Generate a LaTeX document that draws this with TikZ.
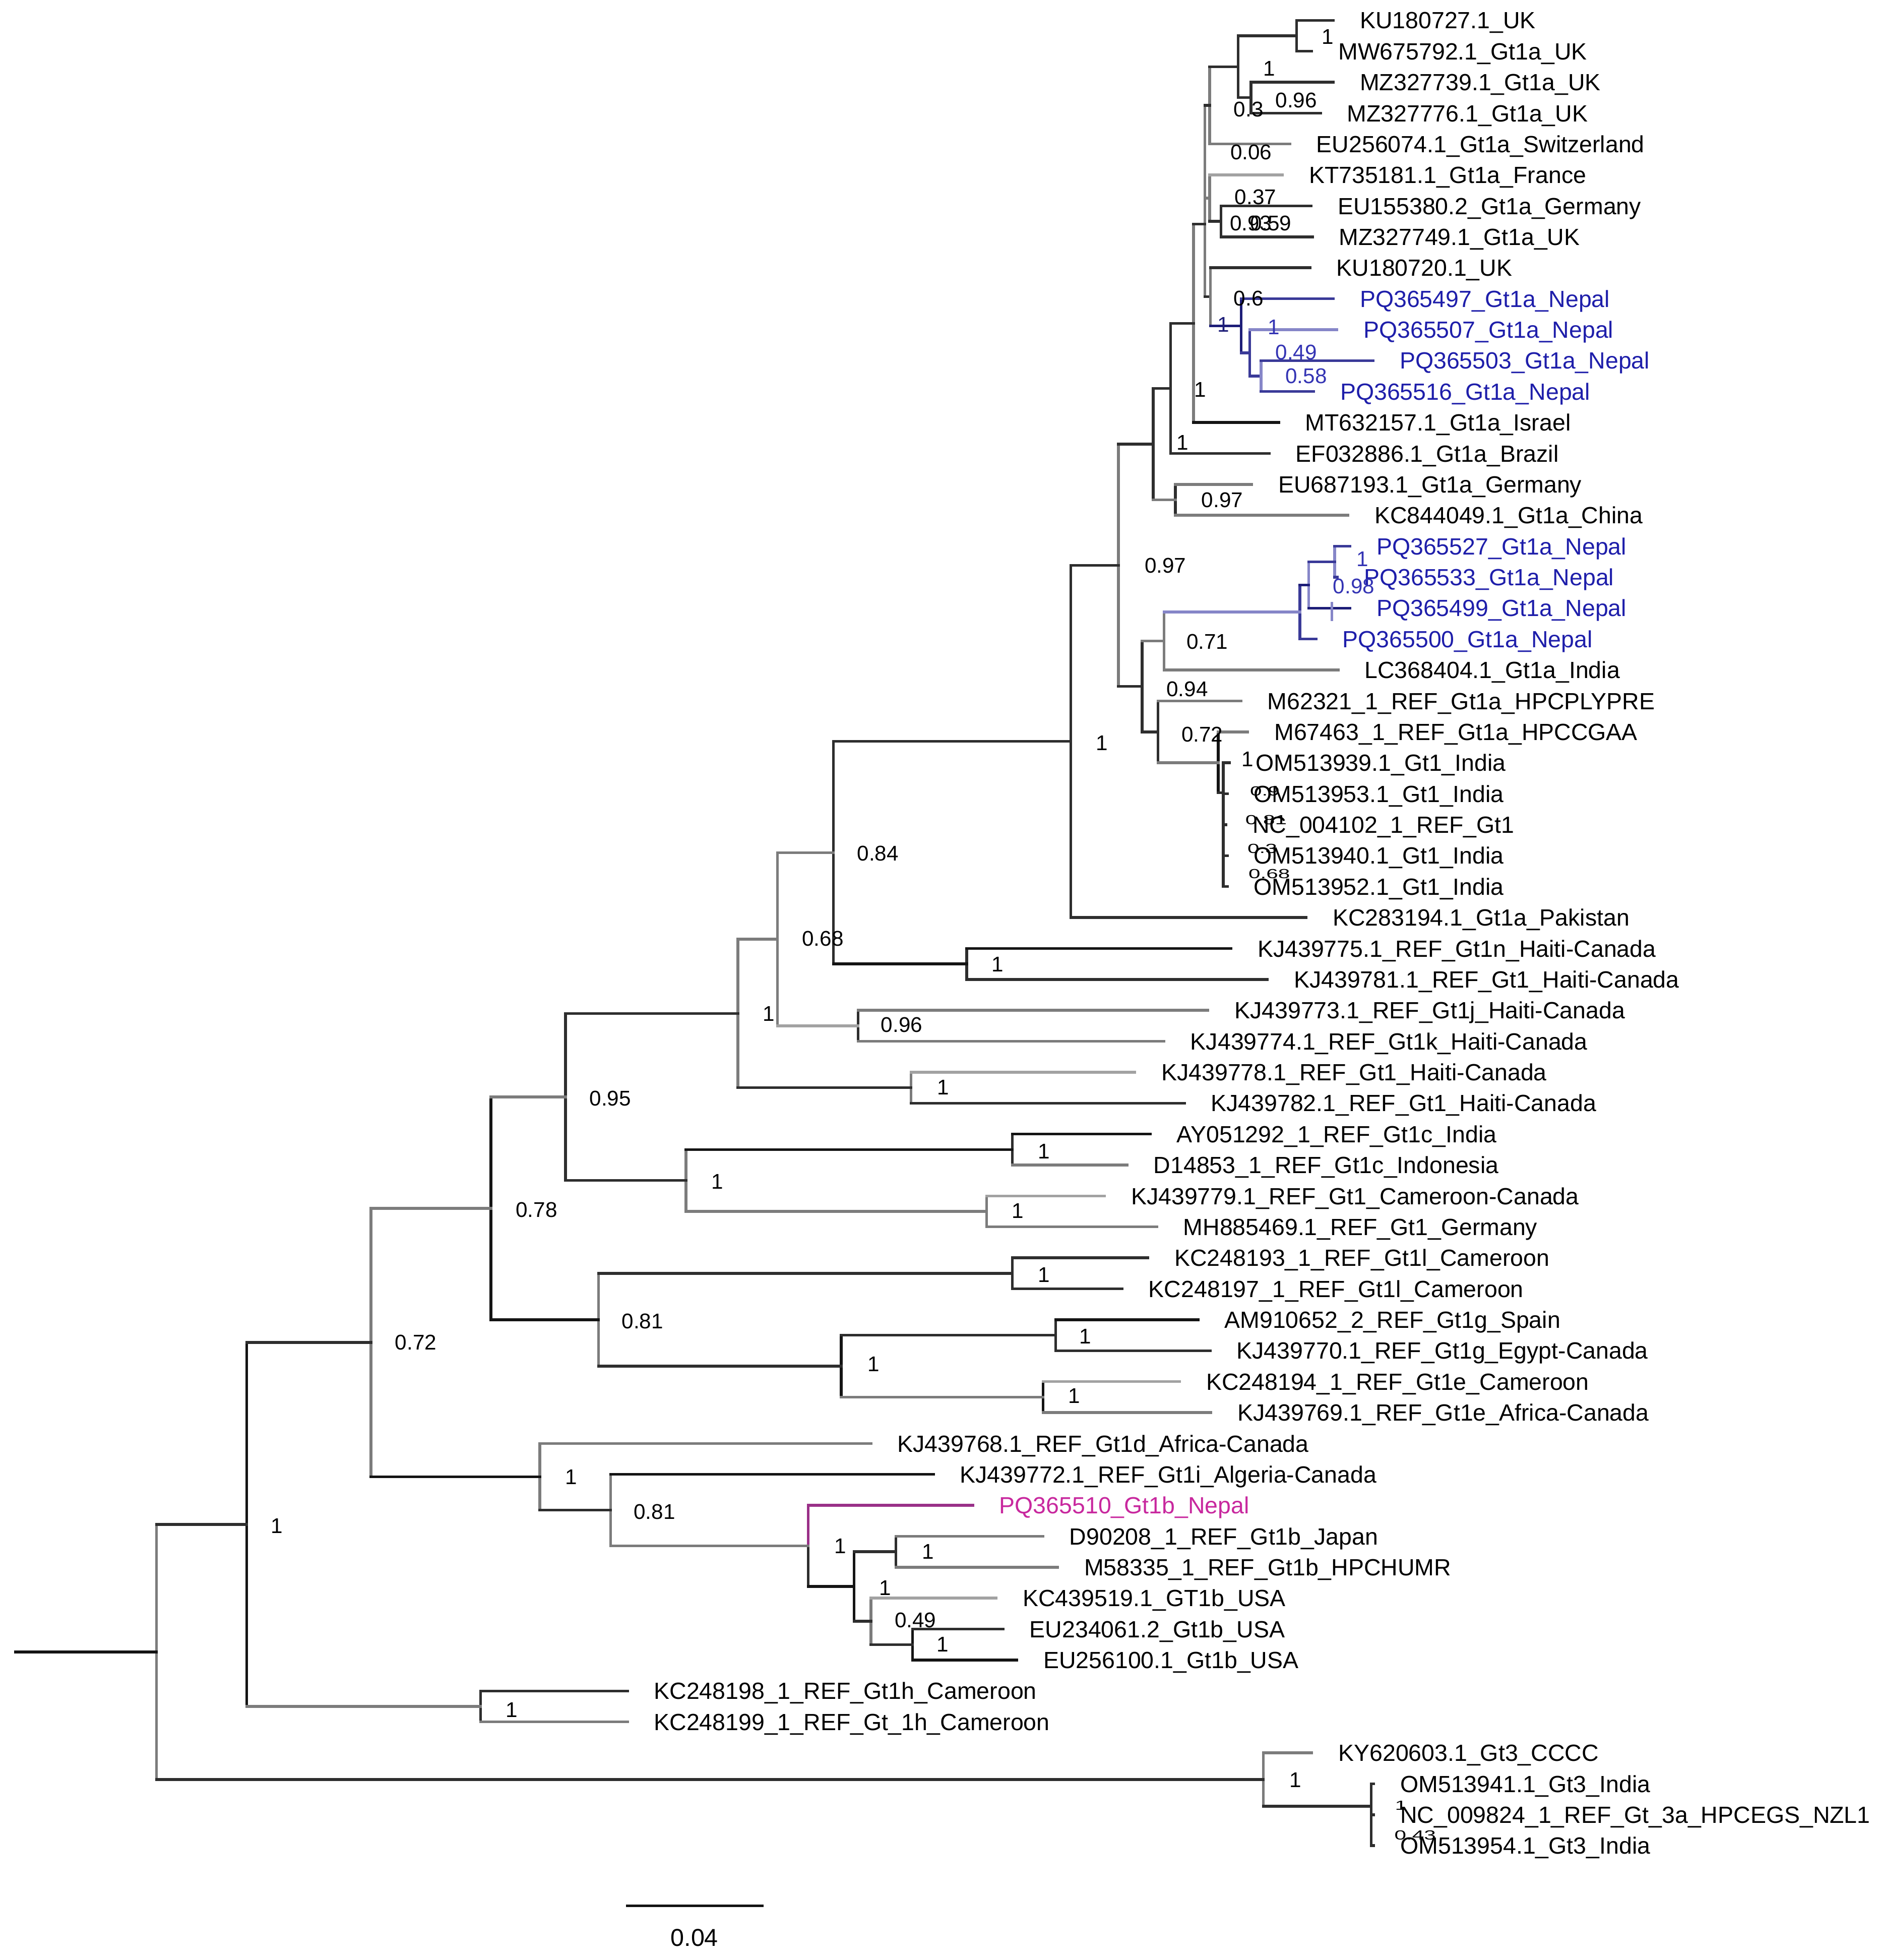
\documentclass[tikz,border=0pt]{standalone}
\usepackage{fontspec}
\setmainfont{Liberation Sans}
\definecolor{bk}{HTML}{141414}
\definecolor{dk}{HTML}{2E2E2E}
\definecolor{gr}{HTML}{7C7C7C}
\definecolor{lg}{HTML}{A2A2A2}
\definecolor{bl}{HTML}{3A3A98}
\definecolor{lb}{HTML}{8686C8}
\definecolor{nv}{HTML}{1E1E78}
\definecolor{nep}{HTML}{1E1EAA}
\definecolor{nepl}{HTML}{3434B4}
\definecolor{mgl}{HTML}{9A3088}
\definecolor{mgt}{HTML}{C8289E}
\newcommand\hbr[3]{\draw[br,#1] (#2 |- #3) -- (#3);}
\newcommand\vbr[4]{\draw[br,#1] (#2 |- #3) -- (#2 |- #4);}
\newcommand\tiplab[3]{\node[tip,#1] (l#2) at ([xshift=21pt]t#2) {#3};}
\newcommand\sq[1]{\scalebox{1}[0.62]{#1}}
\tikzset{
  br/.style={line width=2.2pt, line cap=rect, draw=dk},
  tip/.style={anchor=west, inner sep=0pt, text height=13.4pt, text depth=0pt,
              font=\fontsize{18.7}{20}\selectfont},
  sl/.style={inner sep=0pt, text height=12.2pt, text depth=0pt,
             font=\fontsize{17}{18}\selectfont},
}
\begin{document}
\begin{tikzpicture}[x=1pt,y=-1pt]
\fill[white] (0,0) rectangle (1500,1564.8);
\path[use as bounding box] (0,0) rectangle (1500,1564.8);
% ---------------- tips (branch ends)
\coordinate (t1) at (1064.7,16.2);
\coordinate (t2) at (1047.5,40.9);
\coordinate (t3) at (1064.7,65.6);
\coordinate (t4) at (1054.4,90.3);
\coordinate (t5) at (1030,115.0);
\coordinate (t6) at (1024,139.7);
\coordinate (t7) at (1047,164.4);
\coordinate (t8) at (1048,189.1);
\coordinate (t9) at (1046,213.8);
\coordinate (t10) at (1064.7,238.5);
\coordinate (t11) at (1067.6,263.2);
\coordinate (t12) at (1096.5,287.9);
\coordinate (t13) at (1049,312.6);
\coordinate (t14) at (1021,337.3);
\coordinate (t15) at (1013.4,362.0);
\coordinate (t16) at (999.6,386.7);
\coordinate (t17) at (1076.4,411.4);
\coordinate (t18) at (1078,436.1);
\coordinate (t19) at (1068,460.8);
\coordinate (t20) at (1078,485.5);
\coordinate (t21) at (1050.8,510.2);
\coordinate (t22) at (1068.5,534.9);
\coordinate (t23) at (990.9,559.6);
\coordinate (t24) at (996.4,584.3);
\coordinate (t25) at (981.6,609.0);
\coordinate (t26) at (980,633.7);
\coordinate (t27) at (979,658.4);
\coordinate (t28) at (980,683.1);
\coordinate (t29) at (980,707.8);
\coordinate (t30) at (1043,732.5);
\coordinate (t31) at (983,757.2);
\coordinate (t32) at (1012,781.9);
\coordinate (t33) at (964.6,806.6);
\coordinate (t34) at (929.4,831.3);
\coordinate (t35) at (906.2,856.0);
\coordinate (t36) at (945.7,880.7);
\coordinate (t37) at (918.5,905.4);
\coordinate (t38) at (900,930.1);
\coordinate (t39) at (882,954.8);
\coordinate (t40) at (923.7,979.5);
\coordinate (t41) at (916.7,1004.2);
\coordinate (t42) at (896,1028.9);
\coordinate (t43) at (956.6,1053.6);
\coordinate (t44) at (966.3,1078.3);
\coordinate (t45) at (942,1103.0);
\coordinate (t46) at (967,1127.7);
\coordinate (t47) at (695.4,1152.4);
\coordinate (t48) at (745.4,1177.1);
\coordinate (t49) at (776.8,1201.8);
\coordinate (t50) at (832.8,1226.5);
\coordinate (t51) at (844.5,1251.2);
\coordinate (t52) at (795.5,1275.9);
\coordinate (t53) at (801,1300.6);
\coordinate (t54) at (812,1325.3);
\coordinate (t55) at (501,1350.0);
\coordinate (t56) at (501,1374.7);
\coordinate (t57) at (1047.5,1399.4);
\coordinate (t58) at (1097,1424.1);
\coordinate (t59) at (1097,1448.8);
\coordinate (t60) at (1097,1473.5);
% ---------------- internal nodes
\coordinate (nA12) at (1035.4,28.55);
\coordinate (nA34) at (999,77.95);
\coordinate (nA) at (988.6,53.25);
\coordinate (nB) at (966,84.1);
\coordinate (n78) at (975,176.75);
\coordinate (nD) at (966,158.2);
\coordinate (nB3) at (1007,300.25);
\coordinate (nB2) at (998,281.7);
\coordinate (nB1) at (991,260.1);
\coordinate (n9b) at (966.6,236.95);
\coordinate (nC) at (962,179);
\coordinate (nE) at (953,258.15);
\coordinate (nF) at (934.7,310.1);
\coordinate (n1617) at (938.5,399.05);
\coordinate (nG) at (920.8,354.6);
\coordinate (nM) at (1065.7,448.45);
\coordinate (nL) at (1044.9,466.98);
\coordinate (nK) at (1038,488.6);
\coordinate (nJ) at (929.4,511.75);
\coordinate (nIn) at (976.8,632.8);
\coordinate (n72) at (972.8,608.95);
\coordinate (nN) at (924.7,584.3);
\coordinate (nI) at (912,548.0);
\coordinate (nH) at (893,451.3);
\coordinate (nT) at (855.1,591.9);
\coordinate (n3132) at (772,769.55);
\coordinate (n084) at (665.4,680.7);
\coordinate (n3334) at (685.2,818.95);
\coordinate (n068) at (620.8,749.8);
\coordinate (n3536) at (727.5,868.35);
\coordinate (n1a) at (589.2,809.1);
\coordinate (n3738) at (808.3,917.75);
\coordinate (n3940) at (787.8,967.15);
\coordinate (n549) at (547.7,942.45);
\coordinate (n095) at (451.6,875.8);
\coordinate (n4142) at (808.3,1016.55);
\coordinate (n4344) at (842.9,1065.95);
\coordinate (n4546) at (832.9,1115.35);
\coordinate (n673) at (671.7,1090.65);
\coordinate (n081a) at (478,1053.6);
\coordinate (n078) at (392,964.7);
\coordinate (n5051) at (715.4,1238.85);
\coordinate (n5354) at (728.7,1312.95);
\coordinate (n695) at (695.4,1294.4);
\coordinate (n682) at (682,1266.6);
\coordinate (n1c) at (645.3,1234.2);
\coordinate (n081b) at (487.6,1205.65);
\coordinate (n1b) at (431,1179.0);
\coordinate (n072) at (296.3,1071.85);
\coordinate (n5556) at (383.8,1362.35);
\coordinate (n1r) at (197,1217.1);
\coordinate (nGt3b) at (1095,1442);
\coordinate (nGt3) at (1008.8,1420.7);
\coordinate (root) at (125,1318.9);
\coordinate (stub) at (12.5,1318.9);
% ---------------- branches
\vbr{dk}{nA12}{t1}{t2} \hbr{dk}{nA12}{t1} \hbr{dk}{nA12}{t2}
\vbr{dk}{nA34}{t3}{t4} \hbr{dk}{nA34}{t3} \hbr{dk}{nA34}{t4}
\vbr{dk}{nA}{nA12}{nA34} \hbr{dk}{nA}{nA12} \hbr{dk}{nA}{nA34}
\vbr{gr}{nB}{nA}{t5} \hbr{dk}{nB}{nA} \hbr{gr}{nB}{t5}
\vbr{dk}{n78}{t7}{t8} \hbr{dk}{n78}{t7} \hbr{dk}{n78}{t8}
\vbr{gr}{nD}{t6}{n78} \hbr{lg}{nD}{t6} \hbr{dk}{nD}{n78}
\vbr{gr}{nC}{nB}{n9b} \hbr{dk}{nC}{nB} \hbr{gr}{nC}{nD} \hbr{dk}{nC}{n9b}
\vbr{gr}{n9b}{t9}{nB1} \hbr{dk}{n9b}{t9} \hbr{nv}{n9b}{nB1}
\vbr{nv}{nB1}{t10}{nB2} \hbr{bl}{nB1}{t10} \hbr{bl}{nB1}{nB2}
\vbr{bl}{nB2}{t11}{nB3} \hbr{lb}{nB2}{t11} \hbr{bl}{nB2}{nB3}
\vbr{lb}{nB3}{t12}{t13} \hbr{bl}{nB3}{t12} \hbr{bl}{nB3}{t13}
\vbr{gr}{nE}{nC}{t14} \hbr{dk}{nE}{nC} \hbr{bk}{nE}{t14}
\vbr{dk}{nF}{nE}{t15} \hbr{dk}{nF}{nE} \hbr{dk}{nF}{t15}
\vbr{dk}{n1617}{t16}{t17} \hbr{gr}{n1617}{t16} \hbr{gr}{n1617}{t17}
\vbr{dk}{nG}{nF}{n1617} \hbr{dk}{nG}{nF} \hbr{gr}{nG}{n1617}
\vbr{lb}{nM}{t18}{t19} \hbr{bl}{nM}{t18} \hbr{bl}{nM}{t19}
\vbr{lb}{nL}{nM}{t20} \hbr{bl}{nL}{nM} \hbr{nv}{nL}{t20}
\vbr{bl}{nK}{nL}{t21} \hbr{nv}{nK}{nL} \hbr{bl}{nK}{t21}
\vbr{gr}{nJ}{nK}{t22} \hbr{lb}{nJ}{nK} \hbr{gr}{nJ}{t22}
\draw[br,lb,line width=2pt] (1063.5,481.6) -- (1063.5,495);
\vbr{dk}{nIn}{t25}{t29}
\hbr{dk}{nIn}{t25} \hbr{dk}{nIn}{t26} \hbr{dk}{nIn}{t27} \hbr{dk}{nIn}{t28} \hbr{dk}{nIn}{t29}
\vbr{bk}{n72}{t24}{nIn} \hbr{gr}{n72}{t24} \hbr{dk}{n72}{nIn}
\vbr{dk}{nN}{t23}{n72} \hbr{gr}{nN}{t23} \hbr{gr}{nN}{n72}
\vbr{dk}{nI}{nJ}{nN} \hbr{gr}{nI}{nJ} \hbr{dk}{nI}{nN}
\vbr{gr}{nH}{nG}{nI} \hbr{dk}{nH}{nG} \hbr{dk}{nH}{nI}
\vbr{dk}{nT}{nH}{t30} \hbr{dk}{nT}{nH} \hbr{dk}{nT}{t30}
\vbr{dk}{n3132}{t31}{t32} \hbr{bk}{n3132}{t31} \hbr{dk}{n3132}{t32}
\vbr{dk}{n084}{nT}{n3132} \hbr{dk}{n084}{nT} \hbr{bk}{n084}{n3132}
\vbr{dk}{n3334}{t33}{t34} \hbr{gr}{n3334}{t33} \hbr{gr}{n3334}{t34}
\vbr{gr}{n068}{n084}{n3334} \hbr{gr}{n068}{n084} \hbr{lg}{n068}{n3334}
\vbr{gr}{n3536}{t35}{t36} \hbr{lg}{n3536}{t35} \hbr{dk}{n3536}{t36}
\vbr{gr}{n1a}{n068}{n3536} \hbr{gr}{n1a}{n068} \hbr{dk}{n1a}{n3536}
\vbr{dk}{n3738}{t37}{t38} \hbr{bk}{n3738}{t37} \hbr{gr}{n3738}{t38}
\vbr{gr}{n3940}{t39}{t40} \hbr{lg}{n3940}{t39} \hbr{gr}{n3940}{t40}
\vbr{gr}{n549}{n3738}{n3940} \hbr{bk}{n549}{n3738} \hbr{gr}{n549}{n3940}
\vbr{dk}{n095}{n1a}{n549} \hbr{dk}{n095}{n1a} \hbr{dk}{n095}{n549}
\vbr{dk}{n4142}{t41}{t42} \hbr{dk}{n4142}{t41} \hbr{dk}{n4142}{t42}
\vbr{dk}{n4344}{t43}{t44} \hbr{bk}{n4344}{t43} \hbr{dk}{n4344}{t44}
\vbr{bk}{n4546}{t45}{t46} \hbr{lg}{n4546}{t45} \hbr{gr}{n4546}{t46}
\vbr{bk}{n673}{n4344}{n4546} \hbr{dk}{n673}{n4344} \hbr{gr}{n673}{n4546}
\vbr{gr}{n081a}{n4142}{n673} \hbr{dk}{n081a}{n4142} \hbr{dk}{n081a}{n673}
\vbr{bk}{n078}{n095}{n081a} \hbr{gr}{n078}{n095} \hbr{bk}{n078}{n081a}
\vbr{dk}{n5051}{t50}{t51} \hbr{gr}{n5051}{t50} \hbr{gr}{n5051}{t51}
\vbr{bk}{n5354}{t53}{t54} \hbr{dk}{n5354}{t53} \hbr{bk}{n5354}{t54}
\vbr{gr}{n695}{t52}{n5354} \hbr{lg}{n695}{t52} \hbr{dk}{n695}{n5354}
\vbr{bk}{n682}{n5051}{n695} \hbr{dk}{n682}{n5051} \hbr{dk}{n682}{n695}
\vbr{mgl}{n1c}{t49}{n1c} \vbr{dk}{n1c}{n1c}{n682}
\hbr{mgl}{n1c}{t49} \hbr{bk}{n1c}{n682}
\vbr{gr}{n081b}{t48}{n1c} \hbr{bk}{n081b}{t48} \hbr{gr}{n081b}{n1c}
\vbr{gr}{n1b}{t47}{n081b} \hbr{gr}{n1b}{t47} \hbr{dk}{n1b}{n081b}
\vbr{gr}{n072}{n078}{n1b} \hbr{gr}{n072}{n078} \hbr{bk}{n072}{n1b}
\vbr{dk}{n5556}{t55}{t56} \hbr{dk}{n5556}{t55} \hbr{gr}{n5556}{t56}
\vbr{bk}{n1r}{n072}{n5556} \hbr{dk}{n1r}{n072} \hbr{gr}{n1r}{n5556}
\vbr{dk}{nGt3b}{t58}{t60}
\hbr{dk}{nGt3b}{t58} \hbr{dk}{nGt3b}{t59} \hbr{dk}{nGt3b}{t60}
\vbr{gr}{nGt3}{t57}{nGt3b} \hbr{gr}{nGt3}{t57} \hbr{dk}{nGt3}{nGt3b}
\vbr{gr}{root}{n1r}{nGt3} \hbr{dk}{root}{n1r} \hbr{dk}{root}{nGt3}
\draw[br,bk] (stub) -- (root);
% ---------------- tip labels
\tiplab{}{1}{KU180727.1\_UK}
\tiplab{}{2}{MW675792.1\_Gt1a\_UK}
\tiplab{}{3}{MZ327739.1\_Gt1a\_UK}
\tiplab{}{4}{MZ327776.1\_Gt1a\_UK}
\tiplab{}{5}{EU256074.1\_Gt1a\_Switzerland}
\tiplab{}{6}{KT735181.1\_Gt1a\_France}
\tiplab{}{7}{EU155380.2\_Gt1a\_Germany}
\tiplab{}{8}{MZ327749.1\_Gt1a\_UK}
\tiplab{}{9}{KU180720.1\_UK}
\tiplab{nep}{10}{PQ365497\_Gt1a\_Nepal}
\tiplab{nep}{11}{PQ365507\_Gt1a\_Nepal}
\tiplab{nep}{12}{PQ365503\_Gt1a\_Nepal}
\tiplab{nep}{13}{PQ365516\_Gt1a\_Nepal}
\tiplab{}{14}{MT632157.1\_Gt1a\_Israel}
\tiplab{}{15}{EF032886.1\_Gt1a\_Brazil}
\tiplab{}{16}{EU687193.1\_Gt1a\_Germany}
\tiplab{}{17}{KC844049.1\_Gt1a\_China}
\tiplab{nep}{18}{PQ365527\_Gt1a\_Nepal}
\tiplab{nep}{19}{PQ365533\_Gt1a\_Nepal}
\tiplab{nep}{20}{PQ365499\_Gt1a\_Nepal}
\tiplab{nep}{21}{PQ365500\_Gt1a\_Nepal}
\tiplab{}{22}{LC368404.1\_Gt1a\_India}
\tiplab{}{23}{M62321\_1\_REF\_Gt1a\_HPCPLYPRE}
\tiplab{}{24}{M67463\_1\_REF\_Gt1a\_HPCCGAA}
\tiplab{}{25}{OM513939.1\_Gt1\_India}
\tiplab{}{26}{OM513953.1\_Gt1\_India}
\tiplab{}{27}{NC\_004102\_1\_REF\_Gt1}
\tiplab{}{28}{OM513940.1\_Gt1\_India}
\tiplab{}{29}{OM513952.1\_Gt1\_India}
\tiplab{}{30}{KC283194.1\_Gt1a\_Pakistan}
\tiplab{}{31}{KJ439775.1\_REF\_Gt1n\_Haiti-Canada}
\tiplab{}{32}{KJ439781.1\_REF\_Gt1\_Haiti-Canada}
\tiplab{}{33}{KJ439773.1\_REF\_Gt1j\_Haiti-Canada}
\tiplab{}{34}{KJ439774.1\_REF\_Gt1k\_Haiti-Canada}
\tiplab{}{35}{KJ439778.1\_REF\_Gt1\_Haiti-Canada}
\tiplab{}{36}{KJ439782.1\_REF\_Gt1\_Haiti-Canada}
\tiplab{}{37}{AY051292\_1\_REF\_Gt1c\_India}
\tiplab{}{38}{D14853\_1\_REF\_Gt1c\_Indonesia}
\tiplab{}{39}{KJ439779.1\_REF\_Gt1\_Cameroon-Canada}
\tiplab{}{40}{MH885469.1\_REF\_Gt1\_Germany}
\tiplab{}{41}{KC248193\_1\_REF\_Gt1l\_Cameroon}
\tiplab{}{42}{KC248197\_1\_REF\_Gt1l\_Cameroon}
\tiplab{}{43}{AM910652\_2\_REF\_Gt1g\_Spain}
\tiplab{}{44}{KJ439770.1\_REF\_Gt1g\_Egypt-Canada}
\tiplab{}{45}{KC248194\_1\_REF\_Gt1e\_Cameroon}
\tiplab{}{46}{KJ439769.1\_REF\_Gt1e\_Africa-Canada}
\tiplab{}{47}{KJ439768.1\_REF\_Gt1d\_Africa-Canada}
\tiplab{}{48}{KJ439772.1\_REF\_Gt1i\_Algeria-Canada}
\tiplab{mgt}{49}{PQ365510\_Gt1b\_Nepal}
\tiplab{}{50}{D90208\_1\_REF\_Gt1b\_Japan}
\tiplab{}{51}{M58335\_1\_REF\_Gt1b\_HPCHUMR}
\tiplab{}{52}{KC439519.1\_GT1b\_USA}
\tiplab{}{53}{EU234061.2\_Gt1b\_USA}
\tiplab{}{54}{EU256100.1\_Gt1b\_USA}
\tiplab{}{55}{KC248198\_1\_REF\_Gt1h\_Cameroon}
\tiplab{}{56}{KC248199\_1\_REF\_Gt\_1h\_Cameroon}
\tiplab{}{57}{KY620603.1\_Gt3\_CCCC}
\tiplab{}{58}{OM513941.1\_Gt3\_India}
\tiplab{}{59}{NC\_009824\_1\_REF\_Gt\_3a\_HPCEGS\_NZL1}
\tiplab{}{60}{OM513954.1\_Gt3\_India}
% ---------------- support values
\node[sl] (s1) at (1060,29) {1};
\node[sl] (s2) at (1013.4,54.3) {1};
\node[sl] (s3) at (1035,80) {0.96};
\node[sl] (s4) at (997,87) {0.3};
\node[sl] (s5) at (999,121.3) {0.06};
\node[sl] (s6) at (1002.5,157) {0.37};
\node[sl,anchor=west] (s7) at (982,178) {0.93};
\node[sl,anchor=west] (s8) at (998,178) {0.59};
\node[sl] (s9) at (997,238) {0.6};
\node[sl,nv] (s10) at (977,259) {1};
\node[sl,nepl] (s11) at (1017,261) {1};
\node[sl,nepl] (s12) at (1035,281) {0.49};
\node[sl,nepl] (s13) at (1043,300) {0.58};
\node[sl] (s14) at (958.5,311) {1};
\node[sl] (s15) at (944.4,353) {1};
\node[sl] (s16) at (976,399) {0.97};
\node[sl] (s17) at (930.6,451.5) {0.97};
\node[sl,nepl] (s18) at (1088,446) {1};
\node[sl,nepl] (s19) at (1081,468) {0.98};
\node[sl] (s20) at (964,512) {0.71};
\node[sl] (s21) at (948,550) {0.94};
\node[sl] (s22) at (960,586) {0.72};
\node[sl] (s23) at (996,606) {1};
\node[sl,anchor=west] (s24) at (998,629) {\sq{0.9}};
\node[sl] (s25) at (1011,652) {\sq{0.81}};
\node[sl] (s26) at (1008,675) {\sq{0.3}};
\node[sl] (s27) at (1013.5,695) {\sq{0.68}};
\node[sl] (s28) at (880,593) {1};
\node[sl] (s29) at (701,681) {0.84};
\node[sl] (s30) at (796.7,769.5) {1};
\node[sl] (s31) at (657,749) {0.68};
\node[sl] (s32) at (720,818) {0.96};
\node[sl] (s33) at (614,809) {1};
\node[sl] (s34) at (753,868) {1};
\node[sl] (s35) at (487.3,876.7) {0.95};
\node[sl] (s36) at (573,943) {1};
\node[sl] (s37) at (833.6,919) {1};
\node[sl] (s38) at (812.8,966.5) {1};
\node[sl] (s39) at (428.4,965.7) {0.78};
\node[sl] (s40) at (513,1054.5) {0.81};
\node[sl] (s41) at (833.6,1017.4) {1};
\node[sl] (s42) at (697.7,1089) {1};
\node[sl] (s43) at (866.5,1066.6) {1};
\node[sl] (s44) at (857.8,1114) {1};
\node[sl] (s45) at (332,1071.5) {0.72};
\node[sl] (s46) at (455.9,1179) {1};
\node[sl] (s47) at (522.6,1206.7) {0.81};
\node[sl] (s48) at (671,1234) {1};
\node[sl] (s49) at (741,1238.4) {1};
\node[sl] (s50) at (706.7,1267.6) {1};
\node[sl] (s51) at (731,1293.4) {0.49};
\node[sl] (s52) at (752.8,1312.6) {1};
\node[sl] (s53) at (221,1218) {1};
\node[sl] (s54) at (408.8,1365) {1};
\node[sl] (s55) at (1034.4,1421) {1};
\node[sl] (s56) at (1118.6,1439) {\sq{1}};
\node[sl] (s57) at (1130,1462.7) {\sq{0.43}};
% ---------------- scale bar
\coordinate (sb1) at (500,1521.5);
\coordinate (sb2) at (609.7,1521.5);
\draw[line width=1.8pt, bk] (sb1) -- (sb2);
\node[inner sep=0pt, text height=14pt, text depth=0pt, font=\fontsize{19.5}{20}\selectfont] (sbl) at (554.5,1546.6) {0.04};
\end{tikzpicture}
\end{document}
